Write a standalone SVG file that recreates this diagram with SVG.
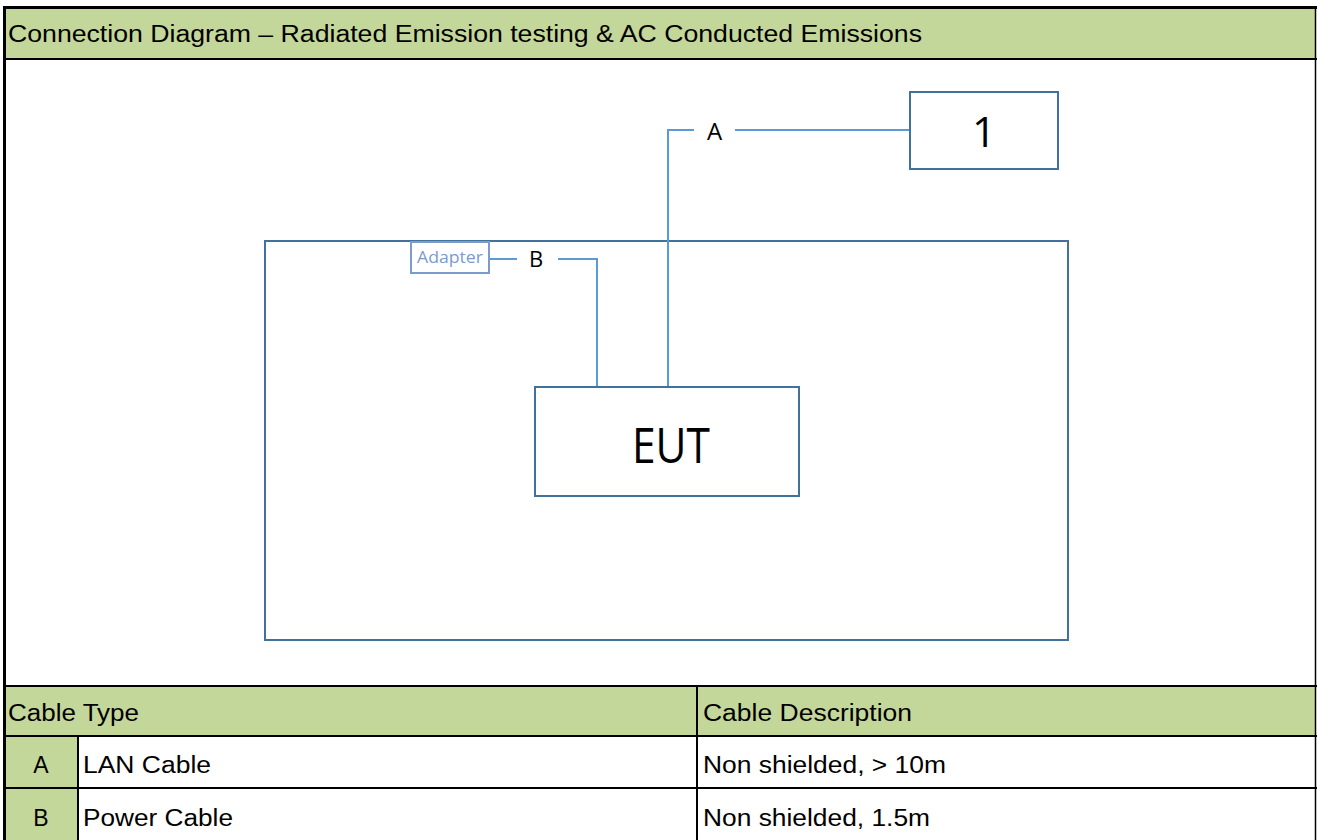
<svg xmlns="http://www.w3.org/2000/svg" width="1317" height="840" viewBox="0 0 1317 840">
<style>
.hdr{fill:#C4D79B}
.grid{stroke:#000;stroke-width:2;fill:none}
.t{font-family:"Liberation Sans",Arial,sans-serif;font-size:23px;fill:#000}
.box{fill:#fff;stroke:#41719C;stroke-width:2}
.cab{stroke:#5B9BD5;stroke-width:2;fill:none}
.c{font-family:"Open Sans","Noto Sans",sans-serif;fill:#000}
</style>
<rect width="1317" height="840" fill="#fff"/>
<g id="frame">
<rect class="hdr" x="5" y="8" width="1311" height="51"/>
<rect class="hdr" x="5" y="687" width="1311" height="49"/>
<rect class="hdr" x="5" y="737" width="73" height="103"/>
<line x1="3" y1="7.5" x2="1317" y2="7.5" stroke="#000" stroke-width="3"/>
<line x1="4.5" y1="6" x2="4.5" y2="840" stroke="#000" stroke-width="3"/>
<line x1="1315.5" y1="6" x2="1315.5" y2="840" stroke="#000" stroke-width="1.5"/>
<line class="grid" x1="3" y1="59" x2="1317" y2="59"/>
<line class="grid" x1="3" y1="686" x2="1317" y2="686"/>
<line class="grid" x1="3" y1="736" x2="1317" y2="736"/>
<line class="grid" x1="3" y1="788" x2="1317" y2="788"/>
<line class="grid" x1="78" y1="736" x2="78" y2="840"/>
<line class="grid" x1="697" y1="686" x2="697" y2="840"/>
<text class="t" x="8" y="42" textLength="914" lengthAdjust="spacingAndGlyphs">Connection Diagram – Radiated Emission testing &amp; AC Conducted Emissions</text>
<text class="t" x="8" y="721" textLength="131" lengthAdjust="spacingAndGlyphs">Cable Type</text>
<text class="t" x="703" y="721" textLength="209" lengthAdjust="spacingAndGlyphs">Cable Description</text>
<text class="t" x="41" y="773" text-anchor="middle">A</text>
<text class="t" x="83" y="773" textLength="128" lengthAdjust="spacingAndGlyphs">LAN Cable</text>
<text class="t" x="703" y="773" textLength="243" lengthAdjust="spacingAndGlyphs">Non shielded, &gt; 10m</text>
<text class="t" x="41" y="826" text-anchor="middle">B</text>
<text class="t" x="83" y="826" textLength="150" lengthAdjust="spacingAndGlyphs">Power Cable</text>
<text class="t" x="703" y="826" textLength="227" lengthAdjust="spacingAndGlyphs">Non shielded, 1.5m</text>
</g>
<g id="table-area">
<rect x="265" y="241" width="803" height="399" fill="none" stroke="#41719C" stroke-width="2"/>
</g>
<g id="connectors">
<polyline class="cab" points="668,387 668,130 694,130"/>
<line class="cab" x1="735" y1="130" x2="910" y2="130"/>
<polyline class="cab" points="597,387 597,259 558,259"/>
<line class="cab" x1="517" y1="259" x2="489" y2="259"/>
<text class="c" x="714.5" y="140" font-size="24" text-anchor="middle">A</text>
<text class="c" x="536" y="267" font-size="22" text-anchor="middle">B</text>
</g>
<g id="eut">
<rect class="box" x="535" y="387" width="264" height="109"/>
<text class="c" x="632" y="463" font-size="50" textLength="78" lengthAdjust="spacingAndGlyphs">EUT</text>
</g>
<g id="node1">
<rect class="box" x="910" y="92" width="148" height="77"/>
<text class="c" x="984" y="147" font-size="42" text-anchor="middle">1</text>
</g>
<g id="adapter">
<rect x="411" y="242" width="78" height="31" fill="#fff" stroke="#7A9BCB" stroke-width="2"/>
<text x="417" y="263" font-family="'Open Sans','Noto Sans',sans-serif" font-size="17" fill="#7A9BCB" textLength="66" lengthAdjust="spacingAndGlyphs">Adapter</text>
</g>
</svg>
